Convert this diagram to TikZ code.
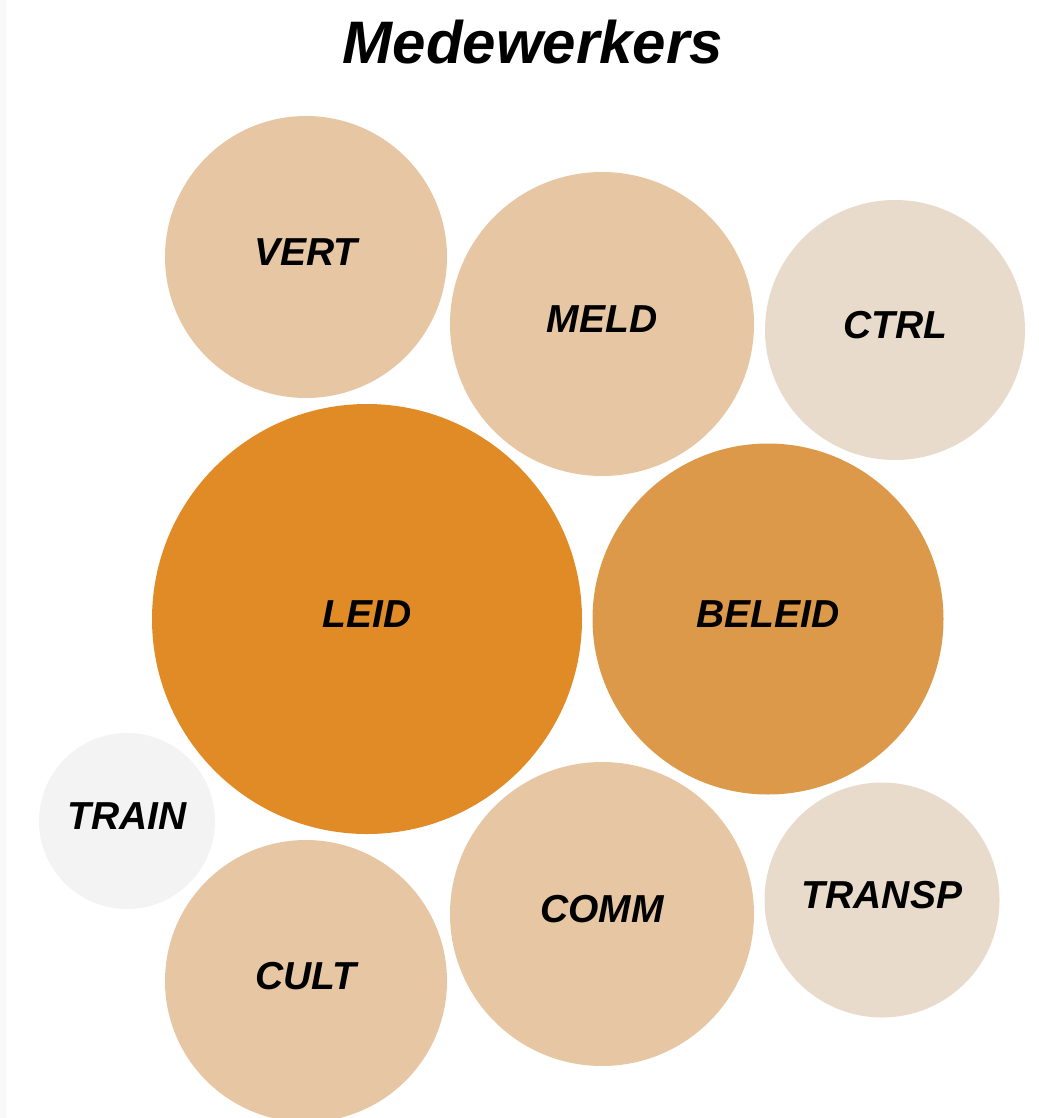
\documentclass[tikz,border=0pt]{standalone}
\usepackage{fontspec}
\setmainfont{Liberation Sans}
\usetikzlibrary{positioning}

\definecolor{leidcol}{HTML}{E08B25}
\definecolor{beleidcol}{HTML}{DD994A}
\definecolor{midcol}{HTML}{E7C7A3}
\definecolor{palecol}{HTML}{E8DBCB}
\definecolor{traincol}{HTML}{F3F3F3}
\definecolor{stripcol}{HTML}{F9F9F9}

\tikzset{
  bubble/.style={circle,inner sep=0pt,text depth=10pt,
    font=\fontsize{39}{39}\selectfont\bfseries\itshape},
  titletext/.style={font=\fontsize{60}{60}\selectfont\bfseries\itshape}
}

\begin{document}
\begin{tikzpicture}[x=1pt,y=-1pt]
        \useasboundingbox (0,0) rectangle (1038,1118);
        \fill[stripcol] (0,0) rectangle (6,1118);
        % title
        \node[titletext] (title) at (533,42) {Medewerkers};
        % bubbles, top row
        \node[bubble,fill=midcol,minimum size=282pt] (vert) at (306,257) {VERT};
        \node[bubble,fill=midcol,minimum size=304pt] (meld) at (602,324) {MELD};
        \node[bubble,fill=palecol,minimum size=260pt] (ctrl) at (895,330) {CTRL};
        % middle row
        \node[bubble,fill=leidcol,minimum size=430pt] (leid) at (367,619) {LEID};
        \node[bubble,fill=beleidcol,minimum size=351pt] (beleid) at (768,619) {BELEID};
        % bottom row
        \node[bubble,fill=traincol,minimum size=176pt] (train) at (127,821) {TRAIN};
        \node[bubble,fill=midcol,minimum size=282pt] (cult) at (306,981) {CULT};
        \node[bubble,fill=midcol,minimum size=304pt] (comm) at (602,914) {COMM};
        \node[bubble,fill=palecol,minimum size=235pt] (transp) at (882,900) {TRANSP};
    \end{tikzpicture}
\end{document}
